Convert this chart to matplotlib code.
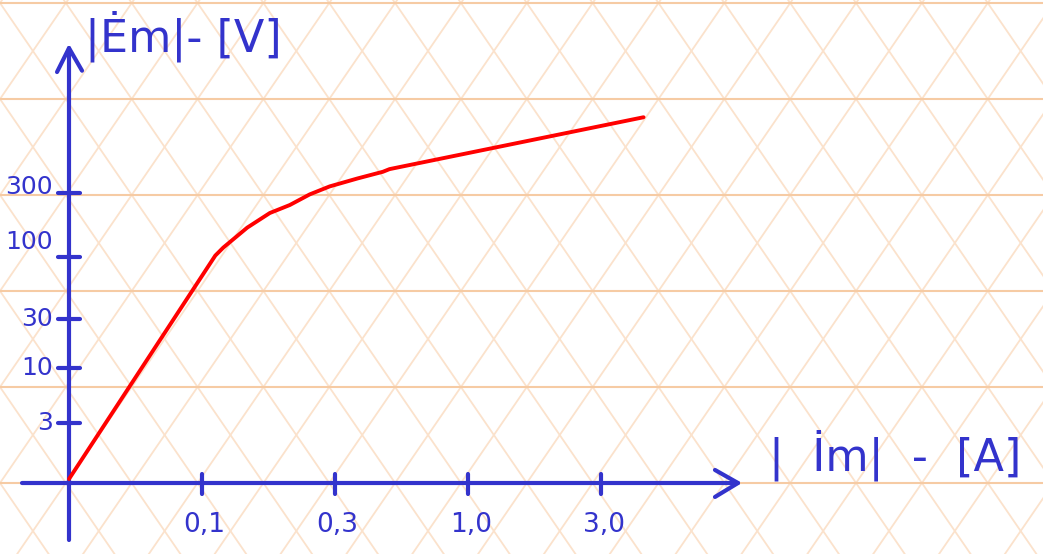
import matplotlib as mpl
mpl.use('Agg')
import numpy as np
import matplotlib.pyplot as plt

# magnetising curve |Em| vs |Im|, positions in tick-step units
current_pos = [0.00, 1.10, 1.16, 1.34, 1.51, 1.66, 1.81, 1.96, 2.17, 2.36, 2.41, 4.32]
voltage_pos = [0.03, 1.71, 1.77, 1.92, 2.03, 2.09, 2.17, 2.23, 2.29, 2.34, 2.36, 2.75]

# hand placed ticks
x_ticks = [1.0, 2.0, 3.0, 4.0]
x_labels = ['0,1', '0,3', '1,0', '3,0']
y_ticks = [0.451, 0.865, 1.233, 1.699, 2.18]
y_labels = ['3', '10', '30', '100', '300']
y_label_lift = [0, 0, 0, 15, 6]   # labels drawn a bit above some ticks

blue = '#3333cc'
red = '#ff0000'
hline_c = '#f6cba4'
diag_c = '#fbe2cc'

W, H = 1043, 554
fig = plt.figure(figsize=(W / 100, H / 100), dpi=100)
fig.patch.set_facecolor('white')

# paper: diamond grid drawn in pixel coords
bg = fig.add_axes([0, 0, 1, 1])
bg.set_xlim(0, W)
bg.set_ylim(H, 0)
bg.axis('off')
dx, dy = 65.85, 96.0
for j in range(-1, 7):
    bg.axhline(3 + dy * j, color=hline_c, lw=1.5, zorder=1)
for k in range(-20, 30):
    x0 = dx * k
    bg.plot([x0, x0 + dx * 10], [3 - dy, 3 + dy * 9], color=diag_c, lw=1.3, zorder=0)
    bg.plot([x0, x0 - dx * 10], [3 - dy, 3 + dy * 9], color=diag_c, lw=1.3, zorder=0)

# chart on top, 133 px per unit, origin at (69, 483)
ax = fig.add_axes([0, 0, 1, 1])
ax.patch.set_alpha(0)
ax.set_xlim(-69 / 133, (W - 69) / 133)
ax.set_ylim(-(H - 483) / 133, 483 / 133)
ax.axis('off')

kw = dict(color=blue, lw=3, solid_capstyle='round', solid_joinstyle='round', zorder=3)
# axes with arrow heads
ax.plot([0, 0], [-0.43, 3.27], **kw)
ax.plot([-0.09, 0, 0.098], [3.09, 3.27, 3.10], **kw)
ax.plot([-0.353, 5.03], [0, 0], **kw)
ax.plot([4.857, 5.03, 4.857], [0.098, 0, -0.105], **kw)

# tick marks and labels
for xt, lab in zip(x_ticks, x_labels):
    ax.plot([xt, xt], [0.068, -0.083], **kw)
    ax.text(xt + 0.02, -0.316, lab, color=blue, fontsize=19, ha='center', va='center')
for yt, lab, lift in zip(y_ticks, y_labels, y_label_lift):
    ax.plot([-0.083, 0.083], [yt, yt], **kw)
    ax.text(-0.12, yt + lift / 133, lab, color=blue, fontsize=18, ha='right', va='center')

ax.text(0.12, 3.36, '|Ėm|- [V]', color=blue, fontsize=32, ha='left', va='center')
ax.text(5.26, 0.21, '|  İm|  -  [A]', color=blue, fontsize=32, ha='left', va='center')

ax.plot(current_pos, voltage_pos, color=red, lw=2.8, solid_capstyle='round',
        solid_joinstyle='round', zorder=4)

fig.savefig('out.png', dpi=100)
